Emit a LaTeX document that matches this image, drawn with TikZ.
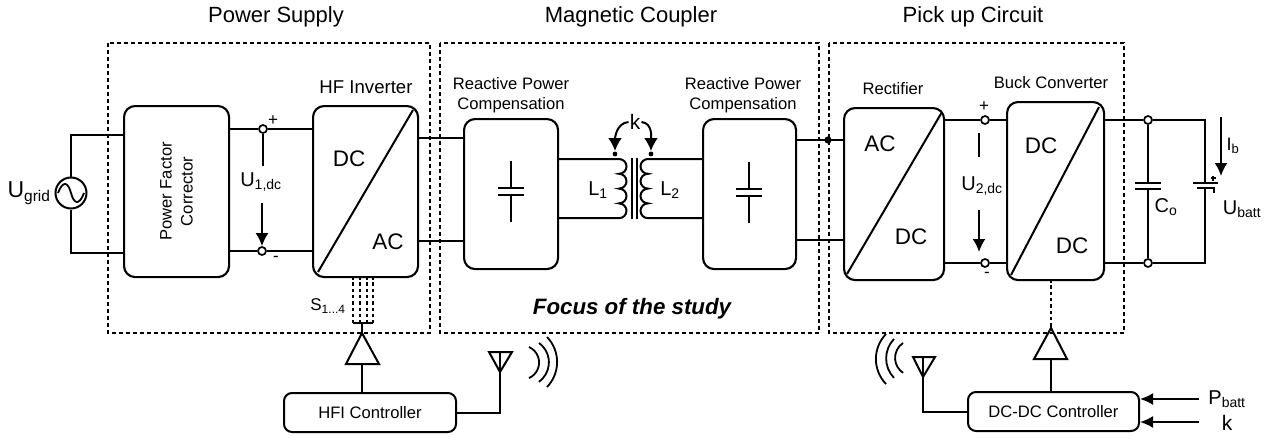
\documentclass[tikz,border=0pt]{standalone}
\usepackage{fontspec}
\setmainfont{Liberation Sans}
\usetikzlibrary{arrows.meta}

\begin{document}
\begin{tikzpicture}
   [
    x=1pt,y=-1pt,
    wire/.style={line width=2pt},
    punkt/.style={rectangle, rounded corners=11pt, draw=black, line width=2.1pt, anchor=north west, inner sep=0pt},
    ctrl/.style={rectangle, rounded corners=8pt, draw=black, line width=2pt, anchor=north west, inner sep=0pt, font=\fontsize{16.6}{16.6}\selectfont, align=center},
    zone/.style={draw=black, line width=2.2pt, dash pattern=on 4pt off 3pt},
    sig/.style={line width=2pt, dash pattern=on 3.5pt off 2.8pt},
    term/.style={circle, draw=black, fill=white, line width=1.7pt, minimum size=8pt, inner sep=0pt},
    amp/.style={line width=2pt, line join=miter},
    volt/.style={line width=2pt, -{Latex[length=13pt,width=13pt]}},
    big/.style={font=\fontsize{22.5}{22.5}\selectfont, inner sep=0pt},
    title/.style={font=\fontsize{22}{22}\selectfont, inner sep=0pt},
    lab/.style={font=\fontsize{16.6}{20}\selectfont, inner sep=0pt, align=center},
    wave/.style={line width=1.8pt}
    ]
\useasboundingbox (0,0) rectangle (1271,439);

% zones
\draw[zone] (108,43) rectangle (430,333);
\draw[zone] (440,43) rectangle (819,333);
\draw[zone] (829,43) rectangle (1124,333);
\node[title] (tsupply) at (276,17) {Power Supply};
\node[title] (tcoupler) at (631,17) {Magnetic Coupler};
\node[title] (tpickup) at (973,17) {Pick up Circuit};

% blocks
\node[punkt, minimum width=105pt, minimum height=171pt] (pfc) at (123,105) {};
\node[font=\fontsize{16.6}{21}\selectfont, rotate=90, align=center, inner sep=0pt] (pfctext) at (pfc.center) {Power Factor\\Corrector};
\node[punkt, minimum width=105pt, minimum height=171pt] (inv) at (312,105) {};
\node[punkt, minimum width=94pt, minimum height=150pt] (comp1) at (463,118) {};
\node[punkt, minimum width=93pt, minimum height=150pt] (comp2) at (702,118) {};
\node[punkt, minimum width=100pt, minimum height=172pt] (rect) at (843,107) {};
\node[punkt, minimum width=97pt, minimum height=178pt] (buck) at (1006,101) {};
\node[ctrl, minimum width=172pt, minimum height=39pt] (hfi) at (283,392) {HFI Controller};
\node[ctrl, minimum width=171pt, minimum height=39pt] (dcdc) at (967,391) {DC-DC Controller};

% block labels
\node[lab, font=\fontsize{18.6}{20}\selectfont] (linv) at (366,87) {HF Inverter};
\node[lab] (lcomp1) at (511,95) {Reactive Power\\Compensation};
\node[lab] (lcomp2) at (743,95) {Reactive Power\\Compensation};
\node[lab] (lrect) at (893,89) {Rectifier};
\node[lab] (lbuck) at (1051,83) {Buck Converter};
\node[font=\bfseries\itshape\fontsize{22.3}{22.3}\selectfont, inner sep=0pt] (focus) at (632,309) {Focus of the study};

% diagonals
\draw[wire] (413,110) -- (318,272);
\draw[wire] (942,112) -- (847,274);
\draw[wire] (1099,107) -- (1011,275);
\node[big] (dc1) at (349,159) {DC};
\node[big] (ac1) at (388,242) {AC};
\node[big] (ac2) at (880,144) {AC};
\node[big] (dc2) at (911,237) {DC};
\node[big] (dc3) at (1041,146) {DC};
\node[big] (dc4) at (1072,246) {DC};

% grid source
\node[circle, draw=black, line width=2pt, minimum size=31pt, inner sep=0pt] (src) at (71,193) {};
\draw[line width=1.8pt] (58,193) .. controls (63,180) and (68,182) .. (71,193) .. controls (74,204) and (79,206) .. (84,193);
\draw[wire] (src.north) |- (123,135);
\draw[wire] (src.south) |- (123,253);
\node[font=\fontsize{23}{23}\selectfont, inner sep=0pt] (ugrid) at (29,193) {U\textsubscript{\fontsize{15.5}{15.5}\selectfont grid}};

% dc link 1
\node[term] (t1p) at (263,129) {};
\node[term] (t1m) at (262,251) {};
\draw[wire] (228,129) -- (t1p) -- (312,129);
\draw[wire] (228,251) -- (t1m) -- (312,251);
\node[font=\fontsize{17}{17}\selectfont, inner sep=0pt] (p1) at (273,121) {+};
\node[font=\fontsize{17}{17}\selectfont, inner sep=0pt] (m1) at (276,259) {-};
\draw[wire] (t1p) -- (263,166);
\draw[volt] (262,203) -- (t1m.north);
\node[font=\fontsize{20}{20}\selectfont, inner sep=0pt] (u1) at (261,182) {U\textsubscript{\fontsize{14}{14}\selectfont 1,dc}};

% inverter to compensation
\draw[wire] (inv.east |- 0,138) -- (comp1.west |- 0,138);
\draw[wire] (inv.east |- 0,241) -- (comp1.west |- 0,241);
\draw[wire] (comp2.east |- 0,140) -- (rect.west |- 0,140);
\draw[wire] (comp2.east |- 0,240) -- (rect.west |- 0,240);
\fill (828,140) circle (3.6pt);

% capacitors in the compensation blocks
\draw[wire] (511,161) -- (511,188) (511,195) -- (511,222);
\draw[wire] (498,188) -- (524,188) (498,195) -- (524,195);
\draw[wire] (749,162) -- (749,189) (749,196) -- (749,223);
\draw[wire] (736,189) -- (762,189) (736,196) -- (762,196);

% transformer
\draw[wire] (comp1.east |- 0,159) -- (619,159)
    \foreach \i in {1,...,4} {arc[start angle=-90,end angle=90,x radius=7.5,y radius=7.4]}
    -- (comp1.east |- 0,218);
\draw[wire] (comp2.west |- 0,159) -- (648,159)
    \foreach \i in {1,...,4} {arc[start angle=270,end angle=90,x radius=7.5,y radius=7.4]}
    -- (comp2.west |- 0,218);
\draw[wire] (632,158) -- (632,219) (636.5,158) -- (636.5,219);
\fill (615,154) circle (2.4pt) (651,154) circle (2.4pt);
\node[font=\fontsize{21}{21}\selectfont, inner sep=1pt] (k1) at (635,122) {k};
\draw[line width=2pt, -{Latex[length=13pt,width=14pt]}] (k1.west) to[out=185, in=90] (615,151);
\draw[line width=2pt, -{Latex[length=13pt,width=14pt]}] (k1.east) to[out=-5, in=90] (651,151);
\node[font=\fontsize{20}{20}\selectfont, inner sep=0pt] (l1) at (598,190) {L\textsubscript{\fontsize{14}{14}\selectfont 1}};
\node[font=\fontsize{20}{20}\selectfont, inner sep=0pt] (l2) at (670,190) {L\textsubscript{\fontsize{14}{14}\selectfont 2}};

% dc link 2
\node[term] (t2p) at (985,120) {};
\node[term] (t2m) at (985,263) {};
\draw[wire] (943,120) -- (t2p) -- (1006,120);
\draw[wire] (943,263) -- (t2m) -- (1006,263);
\node[font=\fontsize{17}{17}\selectfont, inner sep=0pt] (p2) at (984,107) {+};
\node[font=\fontsize{17}{17}\selectfont, inner sep=0pt] (m2) at (987,275) {-};
\draw[wire] (979,133) -- (979,157);
\draw[volt] (979,210) -- (979,252);
\node[font=\fontsize{20}{20}\selectfont, inner sep=0pt] (u2) at (982,186) {U\textsubscript{\fontsize{14}{14}\selectfont 2,dc}};

% output filter and battery
\node[term] (c1) at (1148,120) {};
\node[term] (c2) at (1148,263) {};
\draw[wire] (1103,120) -- (c1) -- (1205,120) -- (1205,183);
\draw[wire] (1103,263) -- (c2) -- (1205,263) -- (1205,187);
\draw[wire] (c1) -- (1148,183) (c2) -- (1148,189);
\draw[wire] (1135,183) -- (1161,183) (1135,189) -- (1161,189);
\node[font=\fontsize{20}{20}\selectfont, inner sep=0pt] (co) at (1166,207) {C\textsubscript{\fontsize{14}{14}\selectfont o}};
\draw[wire] (1193,183) -- (1218,183) (1197,187.5) -- (1215,187.5);
\draw[line width=1.4pt] (1214,187) -- (1214,193) (1213,175.5) -- (1213,180.5) (1210.5,178) -- (1215.5,178);
\draw[volt] (1221,117) -- (1221,176);
\node[font=\fontsize{18}{18}\selectfont, inner sep=0pt] (ib) at (1233,146) {I\textsubscript{\fontsize{13}{13}\selectfont b}};
\node[font=\fontsize{20}{20}\selectfont, inner sep=0pt] (ubatt) at (1242,209) {U\textsubscript{\fontsize{14}{14}\selectfont batt}};

% gate signals
\draw[sig] (353,276) -- (353,323) (360,276) -- (360,323) (367,276) -- (367,323) (373,276) -- (373,323);
\draw[wire] (353,323) -- (373,323);
\draw[wire] (362,323) -- (362,333);
\node[font=\fontsize{17}{17}\selectfont, inner sep=0pt] (s14) at (328,306) {S\textsubscript{\fontsize{12}{12}\selectfont 1...4}};
\draw[amp] (362,333) -- (379,364) -- (346,364) -- cycle;
\draw[wire] (362,364) -- (hfi.north -| 362,0);
\draw[sig] (1051,279) -- (1051,328);
\draw[amp] (1051,328) -- (1067,359) -- (1034,359) -- cycle;
\draw[wire] (1051,359) -- (dcdc.north -| 1051,0);

% antennas
\coordinate (ant1) at (500,372);
\coordinate (ant2) at (923,377);
\draw[wire] (hfi.east) -| (500,352);
\draw[wire] (dcdc.west) -| (923,357);
\draw[amp] (ant1) -- (489,352) -- (512,352) -- cycle;
\draw[amp] (ant2) -- (913,357) -- (935,357) -- cycle;
\draw[wave] (529,347) arc (-66:66:17);
\draw[wave] (539,343) arc (-54:54:24);
\draw[wave] (547,337) arc (-44:44:36);
\draw[wave] (903,343) arc (236:124:18);
\draw[wave] (894,339) arc (224:136:28);
\draw[wave] (886,334) arc (224:136:36);

% controller inputs
\node[font=\fontsize{20}{20}\selectfont, inner sep=0pt] (pbatt) at (1227,399) {P\textsubscript{\fontsize{14}{14}\selectfont batt}};
\node[font=\fontsize{21}{21}\selectfont, inner sep=0pt] (k2) at (1227,423) {k};
\draw[wire, -{Latex[length=13pt,width=12pt]}] (1199,399) -- (dcdc.east |- 0,399);
\draw[wire, -{Latex[length=13pt,width=12pt]}] (1199,422) -- (dcdc.east |- 0,422);
\end{tikzpicture}
\end{document}
